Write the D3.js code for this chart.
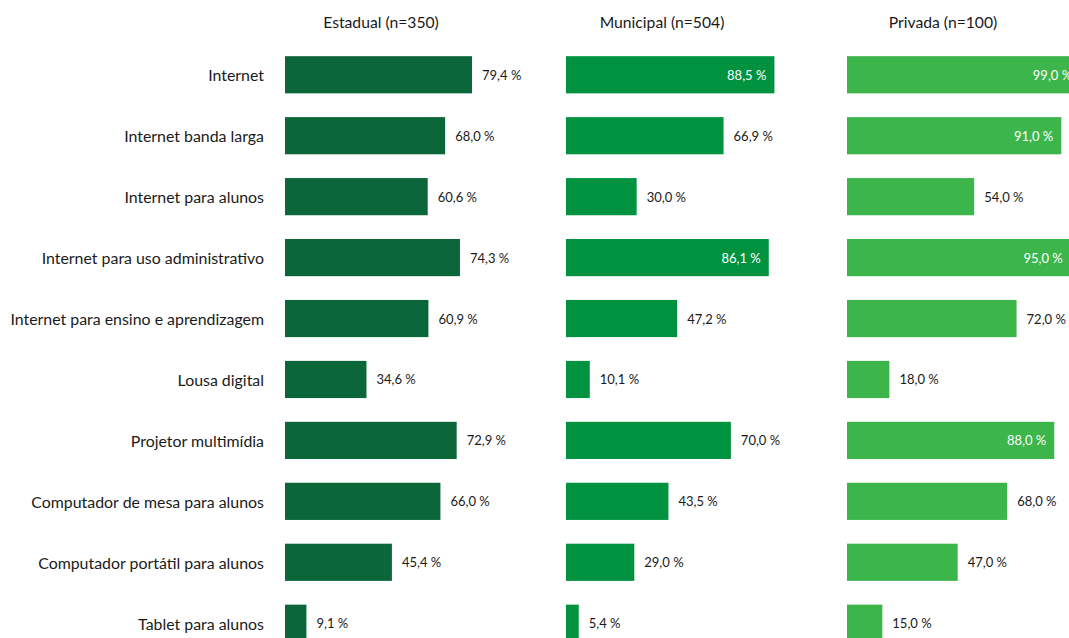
<!DOCTYPE html>
<html>
<head>
<meta charset="utf-8">
<script src="https://cdn.jsdelivr.net/npm/d3@7"></script>
<style>
html,body{margin:0;padding:0;background:#fff;overflow:hidden;}
svg{display:block;}
</style>
</head>
<body>
<svg id="chart" width="1069" height="638"></svg>
<script>
const categories = [
  "Internet",
  "Internet banda larga",
  "Internet para alunos",
  "Internet para uso administrativo",
  "Internet para ensino e aprendizagem",
  "Lousa digital",
  "Projetor multimídia",
  "Computador de mesa para alunos",
  "Computador portátil para alunos",
  "Tablet para alunos"
];
const panelTitles = ["Estadual (n=350)", "Municipal (n=504)", "Privada (n=100)"];
const estadual  = [79.4, 68.0, 60.6, 74.3, 60.9, 34.6, 72.9, 66.0, 45.4, 9.1];
const municipal = [88.5, 66.9, 30.0, 86.1, 47.2, 10.1, 70.0, 43.5, 29.0, 5.4];
const privada   = [99.0, 91.0, 54.0, 95.0, 72.0, 18.0, 88.0, 68.0, 47.0, 15.0];
const colors = ["#0b6739", "#00923f", "#3cb54a"];

const series = [estadual, municipal, privada];
const FONT = "Lato, 'Open Sans', sans-serif";
const svg = d3.select("#chart");

const y = d3.scaleBand().domain(categories).range([44, 654]).paddingInner(0.39).paddingOuter(0.2);
const panelX = [285, 566, 847];
const fmt = v => d3.format(".1f")(v).replace(".", ",") + " %";

// category labels
svg.append("g").selectAll("text").data(categories).join("text")
  .attr("x", 264)
  .attr("y", d => y(d) + y.bandwidth() / 2)
  .attr("text-anchor", "end")
  .attr("dominant-baseline", "central")
  .attr("font-family", FONT)
  .attr("font-size", 15.9)
  .attr("fill", "#1a1a1a")
  .text(d => d);

series.forEach((vals, i) => {
  const x = d3.scaleLinear().domain([0, 100]).range([panelX[i], panelX[i] + 235.5]);
  const g = svg.append("g");
  g.append("text")
    .attr("x", panelX[i] + 96)
    .attr("y", 22)
    .attr("text-anchor", "middle")
    .attr("dominant-baseline", "central")
    .attr("font-family", FONT)
    .attr("font-size", 15.7)
    .attr("fill", "#1a1a1a")
    .text(panelTitles[i]);
  g.selectAll("rect").data(vals).join("rect")
    .attr("x", x(0))
    .attr("y", (d, j) => y(categories[j]))
    .attr("width", d => x(d) - x(0))
    .attr("height", y.bandwidth())
    .attr("fill", colors[i]);
  g.selectAll("text.val").data(vals).join("text")
    .attr("class", "val")
    .attr("x", d => d >= 80 ? x(d) - 8 : x(d) + 10)
    .attr("y", (d, j) => y(categories[j]) + y.bandwidth() / 2)
    .attr("text-anchor", d => d >= 80 ? "end" : "start")
    .attr("dominant-baseline", "central")
    .attr("font-family", FONT)
    .attr("font-size", 13)
    .attr("fill", d => d >= 80 ? "#ffffff" : "#1a1a1a")
    .text(d => fmt(d));
});
</script>
</body>
</html>
